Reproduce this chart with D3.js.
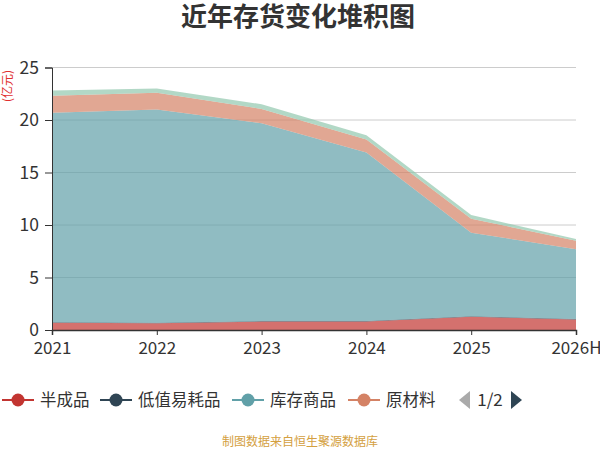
<!DOCTYPE html>
<html><head><meta charset="utf-8">
<script src="https://cdn.jsdelivr.net/npm/d3@7"></script>
<style>body{margin:0;background:#fff;font-family:"Microsoft YaHei","Noto Sans CJK SC",sans-serif}</style>
</head><body><svg id="c" width="600" height="450"></svg>
<script>
const years = ["2021","2022","2023","2024","2025","2026H"];
const seriesNames = ["半成品","低值易耗品","库存商品","原材料","在产品"];
const colors = ["#c23531","#2f4554","#61a0a8","#d48265","#91c7ae"];
const banChengPin = [0.7,0.65,0.8,0.8,1.27,1.0];
const diZhiYiHao = [0.05,0.05,0.05,0.05,0.05,0.05];
const kuCunShangPin = [19.95,20.3,18.85,16.05,7.95,6.65];
const yuanCaiLiao = [1.6,1.6,1.35,1.25,1.33,0.8];
const zaiChanPin = [0.5,0.4,0.45,0.4,0.35,0.17];
const yTicks = [0,5,10,15,20,25];

const svg = d3.select("#c");
const font = '"Microsoft YaHei","Noto Sans CJK SC",sans-serif';
const L=52,R=576,T=67.5,B=330;
const x = d3.scalePoint().domain(years).range([L,R]);
const y = d3.scaleLinear().domain([0,25]).range([B,T]);

const vals = [banChengPin,diZhiYiHao,kuCunShangPin,yuanCaiLiao,zaiChanPin];
const table = years.map((yr,i)=>{const o={year:yr}; seriesNames.forEach((n,k)=>o[n]=vals[k][i]); return o;});
const stack = d3.stack().keys(seriesNames)(table);

// grid
svg.append("g").selectAll("line").data(yTicks.filter(d=>d>0)).join("line")
  .attr("x1",L).attr("x2",R).attr("y1",d=>y(d)).attr("y2",d=>y(d))
  .attr("stroke","#ccc").attr("stroke-width",1);

const area = d3.area().x(d=>x(d.data.year)).y0(d=>y(d[0])).y1(d=>y(d[1]));
svg.append("g").selectAll("path").data(stack).join("path")
  .attr("d",area).attr("fill",(d,i)=>colors[i]).attr("fill-opacity",(d,i)=>i==1?0.9:0.7);

// axes
const yAxis = svg.append("g").attr("transform",`translate(${L},0)`)
  .call(d3.axisLeft(y).tickValues(yTicks).tickSize(7).tickPadding(6));
yAxis.select(".domain").attr("stroke","#333");
yAxis.selectAll("line").attr("stroke","#333");
yAxis.selectAll("text").attr("font-size",17.5).attr("fill","#333").attr("font-family",font);

const xAxis = svg.append("g").attr("transform",`translate(0,${B})`)
  .call(d3.axisBottom(x).tickSize(5).tickPadding(7));
xAxis.select(".domain").attr("stroke","#333").attr("stroke-width",1.5);
xAxis.selectAll("line").attr("stroke","#333");
xAxis.selectAll("text").attr("font-size",17).attr("fill","#333").attr("font-family",font);

svg.append("text").attr("transform","translate(12,86) rotate(-90)")
  .attr("text-anchor","middle").attr("font-size",12).attr("fill","#e03030")
  .attr("font-family",font).text("(亿元)");

svg.append("text").attr("x",298).attr("y",26).attr("text-anchor","middle")
  .attr("font-size",26).attr("font-weight","bold").attr("fill","#333")
  .attr("font-family",font).text("近年存货变化堆积图");

// legend
const legX = [2,100,232,348];
const lg = svg.append("g");
seriesNames.slice(0,4).forEach((n,i)=>{
  const g = lg.append("g").attr("transform",`translate(${legX[i]},400)`);
  g.append("line").attr("x1",0).attr("x2",32).attr("y1",0).attr("y2",0).attr("stroke",colors[i]).attr("stroke-width",2);
  g.append("circle").attr("cx",16).attr("cy",0).attr("r",6.5).attr("fill",colors[i]);
  g.append("text").attr("x",38).attr("y",6).attr("font-size",16.5).attr("fill","#333")
    .attr("font-family",font).text(n);
});
lg.append("path").attr("d","M470,391 L459,400 L470,409 Z").attr("fill","#aaa");
lg.append("text").attr("x",490).attr("y",406).attr("text-anchor","middle").attr("font-size",17)
  .attr("fill","#333").attr("font-family",font).text("1/2");
lg.append("path").attr("d","M511,391 L522,400 L511,409 Z").attr("fill","#2f4554");

svg.append("text").attr("x",300).attr("y",446).attr("text-anchor","middle")
  .attr("font-size",12).attr("fill","#d4a040").attr("font-family",font).text("制图数据来自恒生聚源数据库");
</script></body></html>
